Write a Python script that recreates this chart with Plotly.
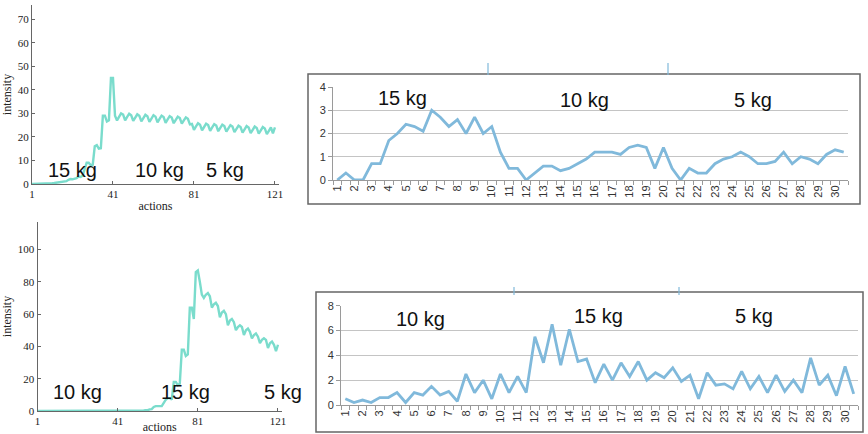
import plotly.graph_objects as go

W, H = 868, 434

# ---- data -------------------------------------------------------------
actions = list(range(1, 122))

intensity_top = [
    0, 0, 0, 0, 0, 0, 0.1, 0.1, 0.2, 0.2,
    0.3, 0.4, 0.5, 0.6, 0.9, 1.1, 1.0, 1.2, 1.8, 2.1,
    2.0, 2.2, 2.5, 3.2, 3.0, 3.5, 6.0, 9.0, 9.0, 8.0,
    8.2, 16.0, 16.5, 15.0, 15.2, 29.0, 29.0, 26.5, 27.0, 45.0,
    45.0, 29.0, 27.0, 28.8, 30.0, 29.5, 27.0, 28.5, 29.8, 29.2,
    26.8, 28.2, 29.6, 29.0, 26.6, 28.0, 29.4, 28.8, 26.4, 27.8,
    29.2, 28.6, 26.2, 27.6, 29.0, 28.4, 26.0, 27.4, 28.8, 28.2,
    25.8, 27.2, 28.6, 28.0, 25.6, 27.0, 28.3, 27.7, 25.3, 25.5,
    23.0, 24.5, 25.8, 25.2, 22.8, 24.2, 25.6, 25.0, 22.6, 24.0,
    25.4, 24.8, 22.4, 23.8, 25.2, 24.6, 22.2, 23.6, 25.0, 24.4,
    22.0, 23.4, 24.8, 24.2, 21.8, 23.2, 24.6, 24.0, 21.6, 23.0,
    24.4, 23.8, 21.4, 22.8, 24.2, 23.6, 21.2, 22.6, 24.0, 21.5,
    24.0,
]

intensity_bottom = [
    0, 0, 0, 0, 0, 0, 0, 0, 0, 0,
    0, 0, 0, 0, 0, 0, 0, 0, 0, 0,
    0, 0, 0, 0, 0, 0, 0, 0, 0, 0,
    0, 0, 0, 0, 0, 0, 0, 0, 0, 0,
    0, 0, 0, 0, 0, 0, 0, 0, 0, 0,
    0, 0, 0.2, 0.3, 0.5, 0.5, 1.0, 1.2, 2.5, 3.0,
    3.0, 3.2, 3.0, 5.0, 7.0, 8.0, 8.0, 7.0, 18.0, 18.0,
    16.0, 17.0, 38.0, 38.0, 34.0, 35.0, 64.0, 64.0, 57.0, 86.0,
    87.0, 80.0, 72.0, 70.0, 72.0, 73.0, 71.0, 64.0, 66.0, 67.0,
    65.0, 58.0, 61.0, 62.0, 60.0, 53.0, 56.0, 57.0, 55.0, 50.0,
    52.0, 53.0, 52.0, 47.0, 50.0, 51.0, 49.0, 45.0, 47.0, 48.0,
    46.0, 42.0, 44.0, 45.0, 44.0, 39.0, 42.0, 43.0, 41.0, 37.0,
    41.0,
]

# ratings are sampled twice per numbered trial
trial_labels = [str(i) for i in range(1, 31)]
trial_x = [i / 2 for i in range(2, 62)]

rating_top = [
    0, 0.3, 0, 0, 0.7, 0.7, 1.7, 2.0, 2.4, 2.3,
    2.1, 3.0, 2.7, 2.3, 2.6, 2.0, 2.7, 2.0, 2.3, 1.2,
    0.5, 0.5, 0, 0.3, 0.6, 0.6, 0.4, 0.5, 0.7, 0.9,
    1.2, 1.2, 1.2, 1.1, 1.4, 1.5, 1.4, 0.5, 1.4, 0.5,
    0, 0.5, 0.3, 0.3, 0.7, 0.9, 1.0, 1.2, 1.0, 0.7,
    0.7, 0.8, 1.2, 0.7, 1.0, 0.9, 0.7, 1.1, 1.3, 1.2,
]

rating_bottom = [
    0.5, 0.2, 0.4, 0.2, 0.6, 0.6, 1.0, 0.2, 1.0, 0.8,
    1.5, 0.8, 1.1, 0.3, 2.5, 1.0, 2.0, 0.5, 2.5, 1.0,
    2.3, 1.0, 5.5, 3.4, 6.5, 3.2, 6.1, 3.5, 3.7, 1.8,
    3.3, 2.0, 3.4, 2.3, 3.5, 2.0, 2.6, 2.2, 3.0, 1.9,
    2.4, 0.5, 2.6, 1.6, 1.7, 1.3, 2.7, 1.3, 2.3, 1.0,
    2.4, 1.1, 2.0, 1.0, 3.8, 1.6, 2.4, 0.75, 3.1, 0.9,
]

# ---- helpers ----------------------------------------------------------
def fx(p):
    return p / W


def fy(p):
    return 1 - p / H


SIM_LINE = "#7adccc"
RATING_LINE = "#80b9db"
SERIF = "Liberation Serif"
SANS = "Liberation Sans"

fig = go.Figure()

fig.add_trace(go.Scatter(x=actions, y=intensity_top, xaxis="x", yaxis="y",
                         mode="lines", line=dict(color=SIM_LINE, width=2.4)))
fig.add_trace(go.Scatter(x=trial_x, y=rating_top, xaxis="x2", yaxis="y2",
                         mode="lines", line=dict(color=RATING_LINE, width=2.8)))
fig.add_trace(go.Scatter(x=actions, y=intensity_bottom, xaxis="x3", yaxis="y3",
                         mode="lines", line=dict(color=SIM_LINE, width=2.4)))
fig.add_trace(go.Scatter(x=trial_x, y=rating_bottom, xaxis="x4", yaxis="y4",
                         mode="lines", line=dict(color=RATING_LINE, width=2.8)))


def sim_x(domain, anchor):
    return dict(domain=domain, anchor=anchor, range=[1, 123],
                tickvals=[1, 41, 81, 121], showline=True, linecolor="#666",
                linewidth=1, ticks="inside", ticklen=3, tickcolor="#666",
                showgrid=False, zeroline=False, automargin=False,
                tickfont=dict(family=SERIF, size=11, color="#222"),
                title=dict(text="actions", standoff=2,
                           font=dict(family=SERIF, size=12, color="#222")))


def sim_y(domain, anchor, top, step):
    return dict(domain=domain, anchor=anchor, range=[0, top], dtick=step,
                tick0=0, showline=True, linecolor="#666", linewidth=1,
                ticks="inside", ticklen=3, tickcolor="#666",
                showgrid=False, zeroline=False, automargin=False,
                tickfont=dict(family=SERIF, size=11, color="#222"),
                title=dict(text="intensity", standoff=4,
                           font=dict(family=SERIF, size=12, color="#222")))


def rating_x(domain, anchor):
    return dict(domain=domain, anchor=anchor, range=[0.75, 30.75],
                tickmode="array", tickvals=list(range(1, 31)),
                ticktext=trial_labels, tickangle=-90, ticks="",
                showline=True, linecolor="#9a9a9a", linewidth=1,
                showgrid=False, zeroline=False, automargin=False,
                tickfont=dict(family=SANS, size=11, color="#333"),
                minor=dict(ticks="outside", ticklen=4, tickcolor="#9a9a9a",
                           tick0=0.75, dtick=0.5, showgrid=False))


def rating_y(domain, anchor, top, step):
    return dict(domain=domain, anchor=anchor, range=[0, top], dtick=step,
                tick0=0, showline=True, linecolor="#9a9a9a", linewidth=1,
                ticks="outside", ticklen=4, tickcolor="#9a9a9a",
                showgrid=True, gridcolor="#c4c4c4", gridwidth=1,
                zeroline=False, automargin=False,
                tickfont=dict(family=SANS, size=11, color="#333"))


layout = dict(
    width=W, height=H, margin=dict(l=0, r=0, t=0, b=0),
    paper_bgcolor="white", plot_bgcolor="white", showlegend=False,
    xaxis=sim_x([fx(32), fx(279)], "y"),
    yaxis=sim_y([fy(184), fy(5)], "x", 76, 10),
    xaxis2=rating_x([fx(333), fx(848)], "y2"),
    yaxis2=rating_y([fy(180), fy(87)], "x2", 4, 1),
    xaxis3=sim_x([fx(37.5), fx(282)], "y3"),
    yaxis3=sim_y([fy(411), fy(222)], "x3", 117, 20),
    xaxis4=rating_x([fx(341), fx(858)], "y4"),
    yaxis4=rating_y([fy(405), fy(305.7)], "x4", 8, 2),
)
fig.update_layout(**layout)

# frames around the rating charts
shapes = [
    dict(type="rect", xref="paper", yref="paper", x0=fx(308), x1=fx(860),
         y0=fy(204), y1=fy(74), line=dict(color="#666", width=1.5)),
    dict(type="rect", xref="paper", yref="paper", x0=fx(316), x1=fx(863),
         y0=fy(432), y1=fy(292), line=dict(color="#666", width=1.5)),
]
# phase boundary markers above the frames
for xm, y0, y1 in [(488, 75, 63), (668, 75, 63), (514, 295, 287), (679, 295, 287)]:
    shapes.append(dict(type="line", xref="paper", yref="paper",
                       x0=fx(xm), x1=fx(xm), y0=fy(y0), y1=fy(y1),
                       line=dict(color=RATING_LINE, width=1.2)))
fig.update_layout(shapes=shapes)

# load labels
loads = [
    ("15 kg", 72, 170), ("10 kg", 159, 170), ("5 kg", 225, 170),
    ("15 kg", 402, 98), ("10 kg", 584, 100), ("5 kg", 753, 100),
    ("10 kg", 77, 392), ("15 kg", 185, 392), ("5 kg", 283, 392),
    ("10 kg", 420, 319), ("15 kg", 598, 316), ("5 kg", 754, 316),
]
for text, xc, yc in loads:
    fig.add_annotation(text=text, x=fx(xc), y=fy(yc), xref="paper",
                       yref="paper", showarrow=False, xanchor="center",
                       yanchor="middle",
                       font=dict(family=SANS, size=20, color="#111"))

fig.write_html("out.html")
